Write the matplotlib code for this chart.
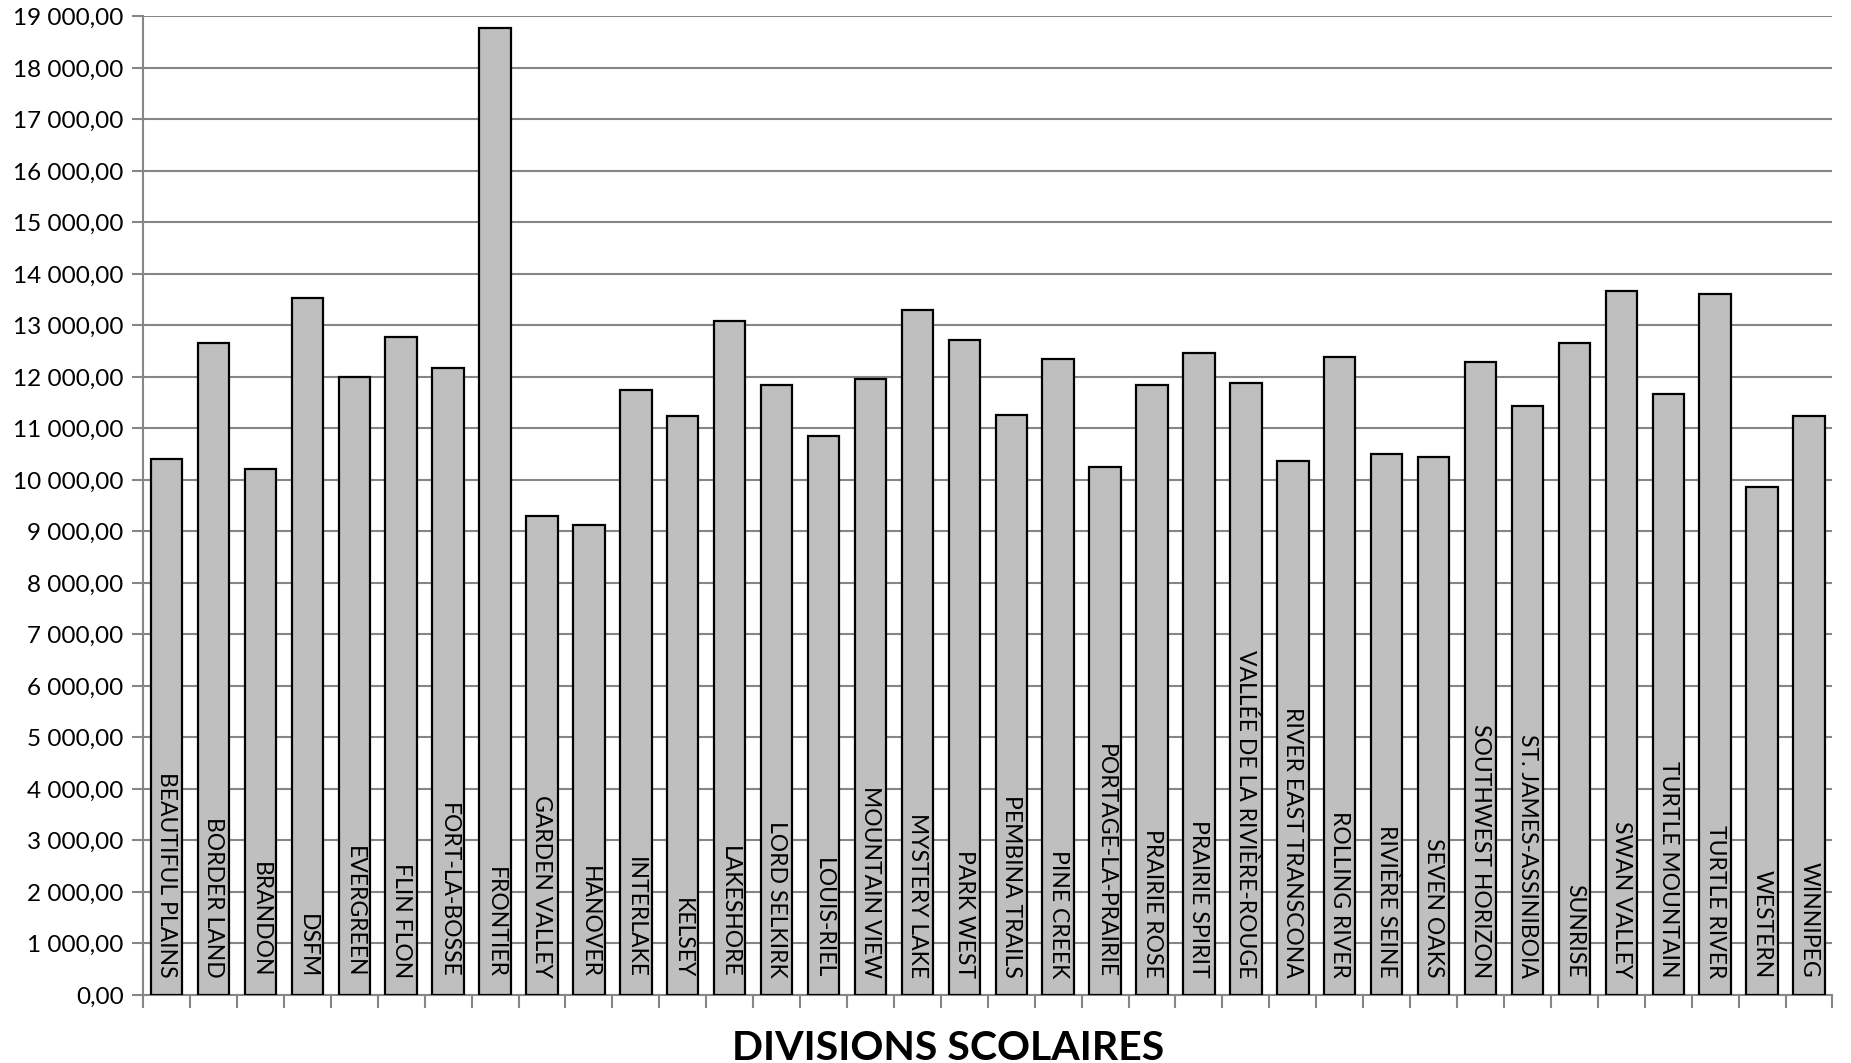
import matplotlib
matplotlib.use("Agg")
import matplotlib.pyplot as plt
from matplotlib.ticker import FuncFormatter, FixedLocator

divisions = [
    "BEAUTIFUL PLAINS", "BORDER LAND", "BRANDON", "DSFM", "EVERGREEN",
    "FLIN FLON", "FORT-LA-BOSSE", "FRONTIER", "GARDEN VALLEY", "HANOVER",
    "INTERLAKE", "KELSEY", "LAKESHORE", "LORD SELKIRK", "LOUIS-RIEL",
    "MOUNTAIN VIEW", "MYSTERY LAKE", "PARK WEST", "PEMBINA TRAILS", "PINE CREEK",
    "PORTAGE-LA-PRAIRIE", "PRAIRIE ROSE", "PRAIRIE SPIRIT", "VALLÉE DE LA RIVIÈRE-ROUGE",
    "RIVER EAST TRANSCONA", "ROLLING RIVER", "RIVIÈRE SEINE", "SEVEN OAKS",
    "SOUTHWEST HORIZON", "ST. JAMES-ASSINIBOIA", "SUNRISE", "SWAN VALLEY",
    "TURTLE MOUNTAIN", "TURTLE RIVER", "WESTERN", "WINNIPEG",
]
values = [
    10410, 12660, 10220, 13535, 11995,
    12770, 12165, 18780, 9295, 9135,
    11755, 11240, 13085, 11840, 10855,
    11960, 13305, 12715, 11260, 12355,
    10255, 11835, 12465, 11875,
    10375, 12380, 10510, 10440,
    12285, 11435, 12665, 13660,
    11675, 13615, 9855, 11235,
]
x_title = "DIVISIONS SCOLAIRES"
y_ticks = list(range(0, 19001, 1000))

plt.rcParams['font.family'] = ['Lato', 'DejaVu Sans']

fig = plt.figure(figsize=(18.51, 10.63), dpi=100)
ax = fig.add_axes([0.0773, 0.064, 0.9127, 0.9205])

pos = list(range(len(divisions)))
ax.bar(pos, values, width=0.67, color="#BFBFBF", edgecolor="black",
       linewidth=1.6, zorder=3)

for p, name in zip(pos, divisions):
    ax.text(p, 330, name, rotation=-90, ha="center", va="bottom",
            fontsize=16.5, color="black", zorder=4)

ax.set_xlim(-0.5, len(divisions) - 0.5)
ax.set_ylim(0, 19000)
ax.yaxis.set_major_locator(FixedLocator(y_ticks))

def fmt(v, _):
    s = f"{v:,.2f}"
    return s.replace(",", " ").replace(".", ",")

ax.yaxis.set_major_formatter(FuncFormatter(fmt))
ax.set_xticks([p - 0.5 for p in pos] + [len(divisions) - 0.5])
ax.set_xticklabels([])
ax.tick_params(axis="x", length=9, width=1.5, color="#868686", direction="out")
ax.tick_params(axis="y", length=8, width=1.5, color="#868686", labelsize=17.5,
               pad=6)
ax.grid(axis="y", color="#868686", linewidth=1.5, zorder=0)
ax.set_axisbelow(True)
for s in ["top", "right"]:
    ax.spines[s].set_visible(False)
for s in ["left", "bottom"]:
    ax.spines[s].set_color("#868686")
    ax.spines[s].set_linewidth(1.5)

fig.text(0.512, 0.014, x_title, ha="center", va="center", fontsize=29.5,
         fontweight="bold", color="black")

fig.savefig("out.png", dpi=100, facecolor="white")
